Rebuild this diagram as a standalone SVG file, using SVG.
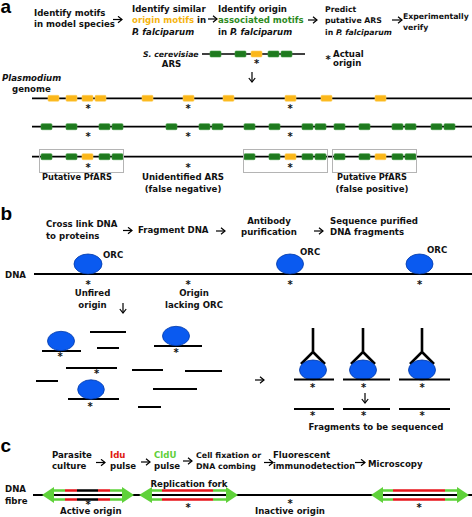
<svg xmlns="http://www.w3.org/2000/svg" width="472" height="517" viewBox="0 0 472 517">
<style>
text{font-family:"DejaVu Sans",Verdana,sans-serif;font-weight:bold;font-size:8.6px;fill:#111}
.sm{font-size:7.75px}
.pl{font-family:"Liberation Sans",Arial,sans-serif;font-size:19px;fill:#000}
.it{font-style:italic}
.st{font-size:10px;text-anchor:middle}
.mid{text-anchor:middle}
.or{fill:#f5b40f}
.gt{fill:#2e8b1e}
.rt{fill:#e01a12}
.lg{fill:#5fcf38}
.ln{stroke:#000;stroke-width:1.7;fill:none}
.fr{stroke:#000;stroke-width:2.2;fill:none}
.gb{fill:#1e7a1e;stroke:#3f9a3f;stroke-width:0.6}
.ob{fill:#fbb71a;stroke:#ffd060;stroke-width:0.6}
.box{fill:none;stroke:#b4b4b4;stroke-width:1}
.orc{fill:#0a5af0;stroke:#0038a8;stroke-width:0.8}
.arr{stroke:#000;stroke-width:1.2;fill:none}
.ab{stroke:#000;stroke-width:2.6;fill:none}
.gr{stroke:#5fd23a;stroke-width:2.6;fill:none}
.rd{stroke:#e8141a;stroke-width:2.6;fill:none}
.bk{stroke:#000;stroke-width:2.6;fill:none}
.gh{fill:#5fd23a}
</style>
<defs>
<marker id="ah" viewBox="0 0 6 8" refX="5" refY="4" markerWidth="6" markerHeight="8" markerUnits="userSpaceOnUse" orient="auto">
<path d="M1,0.8 L5,4 L1,7.2" fill="none" stroke="#000" stroke-width="1.2"/>
</marker>
<g id="gbx"><rect class="gb" x="0" y="0" width="11" height="6" rx="1"/></g>
<g id="obx"><rect class="ob" x="0" y="0" width="11" height="6" rx="1"/></g>
</defs>

<!-- Panel labels -->
<text class="pl" x="0.5" y="12.5">a</text>
<text class="pl" x="0.5" y="220">b</text>
<text class="pl" x="0.5" y="452">c</text>

<!-- Panel a steps -->
<g id="a-step1"><text x="34" y="15.5">Identify motifs</text><text x="34" y="27">in model species</text></g>
<g id="a-step2"><text x="132" y="11.5">Identify similar</text><text x="132" y="23"><tspan class="or">origin motifs</tspan> in</text><text x="132" y="34.5" class="it">P. falciparum</text></g>
<g id="a-step3"><text x="218" y="11.5">Identify origin</text><text x="218" y="23" class="gt">associated motifs</text><text x="218" y="34.5">in <tspan class="it">P. falciparum</tspan></text></g>
<g id="a-step4"><text class="sm" x="325" y="11.5">Predict</text><text class="sm" x="325" y="23">putative ARS</text><text class="sm" x="325" y="34.5">in <tspan class="it">P. falciparum</tspan></text></g>
<g id="a-step5"><text class="sm" x="403" y="18.5">Experimentally</text><text class="sm" x="403" y="29.5">verify</text></g>

<!-- S. cerevisiae ARS -->
<g id="a-scer">
<text x="143" y="56.5" class="it sm">S. cerevisiae</text>
<text x="171.5" y="67" class="mid">ARS</text>
<path class="ln" d="M202,54 H305"/>
<use href="#gbx" x="210" y="51"/><use href="#gbx" x="235" y="51"/><use href="#obx" x="251" y="51"/><use href="#gbx" x="268" y="51"/><use href="#gbx" x="281" y="51"/>
<text class="st" x="256.5" y="67">*</text>
</g>
<g id="a-legend"><text class="st" x="328" y="62.5">*</text><text x="333" y="56.5">Actual</text><text x="333" y="66">origin</text></g>
<text x="2" y="80.5" class="it">Plasmodium</text>
<text x="12" y="92">genome</text>

<!-- genome line 1 -->
<g id="a-line1">
<path class="ln" d="M32,98.3 H472"/>
<use href="#obx" x="48" y="95.3"/><use href="#obx" x="66" y="95.3"/><use href="#obx" x="82" y="95.3"/><use href="#obx" x="95" y="95.3"/><use href="#obx" x="142" y="95.3"/><use href="#obx" x="183" y="95.3"/><use href="#obx" x="223" y="95.3"/><use href="#obx" x="285" y="95.3"/><use href="#obx" x="321" y="95.3"/><use href="#obx" x="375" y="95.3"/>
<text class="st" x="88" y="112.2">*</text><text class="st" x="188" y="112.2">*</text><text class="st" x="290" y="112.2">*</text>
</g>
<!-- genome line 2 -->
<g id="a-line2">
<path class="ln" d="M32,126.7 H472"/>
<use href="#gbx" x="41" y="123.7"/><use href="#gbx" x="66" y="123.7"/><use href="#gbx" x="99" y="123.7"/><use href="#gbx" x="112" y="123.7"/><use href="#gbx" x="166" y="123.7"/><use href="#gbx" x="199" y="123.7"/><use href="#gbx" x="212" y="123.7"/><use href="#gbx" x="244" y="123.7"/><use href="#gbx" x="269" y="123.7"/><use href="#gbx" x="302" y="123.7"/><use href="#gbx" x="315" y="123.7"/><use href="#gbx" x="334" y="123.7"/><use href="#gbx" x="359" y="123.7"/><use href="#gbx" x="392" y="123.7"/><use href="#gbx" x="405" y="123.7"/><use href="#gbx" x="431" y="123.7"/><use href="#gbx" x="444" y="123.7"/>
<text class="st" x="88" y="140">*</text><text class="st" x="188" y="140">*</text><text class="st" x="290" y="140">*</text>
</g>
<!-- genome line 3 -->
<g id="a-line3">
<path class="ln" d="M32,156.7 H472"/>
<use href="#gbx" x="41" y="153.7"/><use href="#gbx" x="66" y="153.7"/><use href="#obx" x="82" y="153.7"/><use href="#gbx" x="99" y="153.7"/><use href="#gbx" x="112" y="153.7"/>
<use href="#gbx" x="244" y="153.7"/><use href="#gbx" x="269" y="153.7"/><use href="#obx" x="285" y="153.7"/><use href="#gbx" x="302" y="153.7"/><use href="#gbx" x="315" y="153.7"/>
<use href="#gbx" x="334" y="153.7"/><use href="#gbx" x="359" y="153.7"/><use href="#obx" x="375" y="153.7"/><use href="#gbx" x="392" y="153.7"/><use href="#gbx" x="405" y="153.7"/>
<text class="st" x="88" y="170.5">*</text><text class="st" x="188" y="170.5">*</text><text class="st" x="290" y="170.5">*</text>
</g>
<g id="a-box1"><rect class="box" x="39.5" y="149.5" width="84" height="23"/><text class="mid" x="77" y="180" style="font-size:8.2px">Putative PfARS</text></g>
<g id="a-unid"><text class="mid" x="183" y="180">Unidentified ARS</text><text class="mid" x="183" y="192">(false negative)</text></g>
<g id="a-box2"><rect class="box" x="243.5" y="149.5" width="84" height="23"/></g>
<g id="a-box3"><rect class="box" x="332.5" y="149.5" width="84" height="23"/><text class="mid" x="372" y="180" style="font-size:8.2px">Putative PfARS</text><text class="mid" x="372" y="192">(false positive)</text></g>

<!-- Panel b steps -->
<g id="b-step1"><text x="46" y="227">Cross link DNA</text><text x="46" y="238.5">to proteins</text></g>
<g id="b-step2"><text x="138" y="233">Fragment DNA</text></g>
<g id="b-step3"><text class="mid" x="269" y="223.5">Antibody</text><text class="mid" x="269" y="235">purification</text></g>
<g id="b-step4"><text x="330" y="223.5">Sequence purified</text><text x="330" y="235">DNA fragments</text></g>

<g id="b-dna">
<text x="5" y="278">DNA</text>
<path class="fr" d="M34,274 H472"/>
<ellipse class="orc" cx="88" cy="264" rx="14" ry="10"/><text x="103" y="258">ORC</text>
<ellipse class="orc" cx="290" cy="264" rx="13.5" ry="10"/><text x="300" y="255">ORC</text>
<ellipse class="orc" cx="419.5" cy="264" rx="13.5" ry="10"/><text x="427" y="253">ORC</text>
<text class="st" x="88" y="287.5">*</text><text class="st" x="188" y="287.5">*</text><text class="st" x="290" y="287.5">*</text><text class="st" x="419.5" y="287.5">*</text>
<text class="mid" x="92.5" y="296">Unfired</text><text class="mid" x="92.5" y="307.5">origin</text>
<text class="mid" x="194" y="296">Origin</text><text class="mid" x="194" y="307.5">lacking ORC</text>
</g>

<!-- fragments -->
<g id="b-fragments">
<path class="fr" d="M42,351 H81 M90,332 H126 M97,348 H119 M154,346 H202 M66,368 H117 M132,370 H163 M185,371 H222 M36,381 H58 M68,399 H119 M153,389 H197 M138,407 H161"/>
<ellipse class="orc" cx="61" cy="341" rx="13.5" ry="9.7"/>
<ellipse class="orc" cx="176" cy="336" rx="13.5" ry="9.7"/>
<ellipse class="orc" cx="91" cy="389.5" rx="13.3" ry="9.7"/>
<text class="st" x="60" y="360">*</text><text class="st" x="176" y="355.5">*</text><text class="st" x="96.5" y="377">*</text><text class="st" x="90" y="410">*</text>
</g>

<!-- antibodies -->
<g id="b-antibodies">
<path class="ab" d="M313,328 V352 L301,364 M313,352 L325,364 M363,328 V352 L351,364 M363,352 L375,364 M422,328 V352 L410,364 M422,352 L434,364"/>
<ellipse class="orc" cx="313" cy="370" rx="13.5" ry="10"/>
<ellipse class="orc" cx="363" cy="370" rx="13.5" ry="10"/>
<ellipse class="orc" cx="422" cy="370" rx="13.5" ry="10"/>
<path class="fr" d="M294,379.5 H334 M343,379.5 H390 M399,379.5 H450"/>
<text class="st" x="312.5" y="390.5">*</text><text class="st" x="363.5" y="390.5">*</text><text class="st" x="422" y="390.5">*</text>
<path class="fr" d="M294,409 H334 M343,409 H390 M399,409 H450"/>
<text class="st" x="312.5" y="419">*</text><text class="st" x="363.5" y="419">*</text><text class="st" x="422" y="419">*</text>
<text class="mid" x="376" y="430">Fragments to be sequenced</text>
</g>

<!-- Panel c steps -->
<g id="c-step1"><text x="52" y="457.5">Parasite</text><text x="52" y="469">culture</text></g>
<g id="c-step2"><text x="110" y="457.5" class="rt">Idu</text><text x="110" y="469">pulse</text></g>
<g id="c-step3"><text x="154" y="457.5" class="lg">CldU</text><text x="154" y="469">pulse</text></g>
<g id="c-step4"><text x="196" y="457.5" style="font-size:7.9px">Cell fixation or</text><text x="196" y="469" style="font-size:7.9px">DNA combing</text></g>
<g id="c-step5"><text x="273" y="457.5">Fluorescent</text><text x="273" y="469" style="font-size:8.3px">immunodetection</text></g>
<g id="c-step6"><text x="368" y="466.5">Microscopy</text></g>

<g id="c-fibre">
<text x="5" y="492">DNA</text><text x="5" y="504">fibre</text>
<path class="fr" d="M33,495 H472"/>
</g>
<g id="c-fork1">
<path class="gr" d="M52,490.5 H65 M52,499.5 H65 M110,490.5 H123 M110,499.5 H123"/>
<path class="rd" d="M65,490.5 H77 M65,499.5 H77 M98,490.5 H110 M98,499.5 H110"/>
<path class="bk" d="M77,490.5 H98 M77,499.5 H98"/>
<path class="gh" d="M42,495 L54,487 L54,503 Z M134,495 L122,487 L122,503 Z"/>
<text class="st" x="88" y="508">*</text>
<text x="60" y="513.5">Active origin</text>
</g>
<g id="c-fork2">
<path class="gr" d="M151,490.5 H162 M151,499.5 H162 M213,490.5 H228 M213,499.5 H228"/>
<path class="rd" d="M162,490.5 H213 M162,499.5 H213"/>
<path class="gh" d="M139,495 L152,487 L152,503 Z M238,495 L226,487 L226,503 Z"/>
<text class="mid" x="189" y="486.5">Replication fork</text>
<text class="st" x="188" y="510.5">*</text>
</g>
<g id="c-inactive"><text class="st" x="290" y="507">*</text><text class="mid" x="290" y="513.5">Inactive origin</text></g>
<g id="c-fork3">
<path class="gr" d="M382,490.5 H393 M382,499.5 H393 M445,490.5 H458 M445,499.5 H458"/>
<path class="rd" d="M393,490.5 H445 M393,499.5 H445"/>
<path class="gh" d="M371,495 L383,487 L383,503 Z M469,495 L457,487 L457,503 Z"/>
<text class="st" x="419" y="510.5">*</text>
</g>

<!-- connectors -->
<g id="connectors">
<path class="arr" marker-end="url(#ah)" d="M113,19.5 H122"/>
<path class="arr" marker-end="url(#ah)" d="M208,19 H217"/>
<path class="arr" marker-end="url(#ah)" d="M308,20 H317"/>
<path class="arr" marker-end="url(#ah)" d="M392,20 H402"/>
<path class="arr" marker-end="url(#ah)" d="M252,72 V82"/>
<path class="arr" marker-end="url(#ah)" d="M123,230.5 H132"/>
<path class="arr" marker-end="url(#ah)" d="M216,231 H225"/>
<path class="arr" marker-end="url(#ah)" d="M314,231 H323"/>
<path class="arr" marker-end="url(#ah)" d="M123,303 V313"/>
<path class="arr" marker-end="url(#ah)" d="M255,380 H264"/>
<path class="arr" marker-end="url(#ah)" d="M365,393 V403"/>
<path class="arr" marker-end="url(#ah)" d="M96,462.5 H105"/>
<path class="arr" marker-end="url(#ah)" d="M141,462 H150"/>
<path class="arr" marker-end="url(#ah)" d="M183,461 H192"/>
<path class="arr" marker-end="url(#ah)" d="M264,462.5 H273"/>
<path class="arr" marker-end="url(#ah)" d="M355,462.5 H365"/>
</g>
</svg>
